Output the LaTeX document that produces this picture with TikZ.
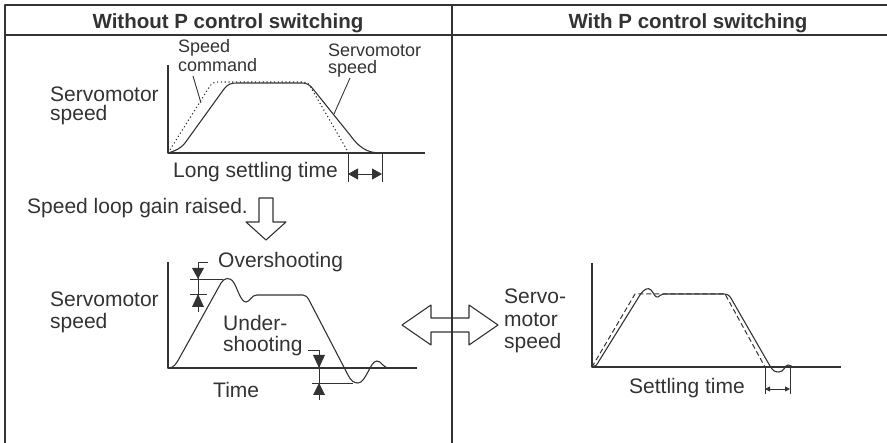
\documentclass[tikz,border=0pt]{standalone}
\usepackage{fontspec}
\setmainfont{Liberation Sans}
\usetikzlibrary{arrows.meta}
\definecolor{ink}{HTML}{333333}
\begin{document}
\begin{tikzpicture}[x=1pt,y=-1pt, line join=round,
  every node/.style={inner sep=0pt, text=ink},
  hdr/.style={font=\fontsize{20.5}{24}\selectfont\bfseries, anchor=base},
  lbl/.style={font=\fontsize{21}{24}\selectfont, anchor=base west},
  sml/.style={font=\fontsize{18}{20}\selectfont, anchor=base west},
  frame/.style={draw=ink, line width=1.6pt},
  axis/.style={draw=ink, line width=1.3pt},
  curve/.style={draw=ink, line width=1.1pt},
  cmddot/.style={draw=ink, line width=1.1pt, dash pattern=on 1.2pt off 2.6pt},
  cmddash/.style={draw=ink, line width=1.0pt, dash pattern=on 5pt off 3pt},
  thin/.style={draw=ink, line width=0.9pt},
  tri/.style={fill=ink},
  hollow/.style={draw=ink, line width=1.1pt, fill=none},
  bigtip/.style={{Triangle[length=10pt,width=11pt]}-{Triangle[length=10pt,width=11pt]}},
  smalltip/.style={{Triangle[length=5pt,width=5pt]}-{Triangle[length=5pt,width=5pt]}},
]
\useasboundingbox (0,0) rectangle (887,443);

% table frame
\draw[frame] (887,5) -- (5,5) -- (5,443);
\draw[frame] (5,35) -- (887,35);
\draw[frame] (452,5) -- (452,443);
\node[hdr] (h1) at (228,29) {Without P control switching};
\node[hdr] (h2) at (688,29) {With P control switching};

% ---------- top-left chart ----------
\coordinate (o1) at (168,153);
\coordinate (y1) at (168,65);
\coordinate (x1) at (425,153);
\draw[axis] (y1) -- (o1) -- (x1);
\draw[cmddot] (o1) -- (208,89) .. controls (211,84) and (213,82) .. (218,82)
  -- (303,82) .. controls (306,82) and (308,83) .. (310,86) -- (347,150);
\draw[curve] (o1) .. controls (175,151) and (180,149) .. (185,143)
  -- (224,89) .. controls (228,84) and (231,83) .. (237,83)
  -- (302,83) .. controls (307,83) and (310,85) .. (313,89)
  -- (350,135) .. controls (358,146) and (366,153) .. (380,153);
\node[lbl] (t1a) at (50,102) {Servomotor};
\node[lbl] (t1b) at (50,121) {speed};
\node[sml] (sc1) at (178,53) {Speed};
\node[sml] (sc2) at (178,72) {command};
\node[sml] (ss1) at (328,57) {Servomotor};
\node[sml] (ss2) at (328,74) {speed};
\coordinate (lc1) at (193,76);
\coordinate (lc2) at (201,103);
\coordinate (ls1) at (350,78);
\coordinate (ls2) at (334,114);
\draw[thin] (lc1) -- (lc2);
\draw[thin] (ls1) -- (ls2);
\node[lbl] (lst) at (173,178) {Long settling time};
\coordinate (sa1) at (348,153);
\coordinate (sa2) at (348,182);
\coordinate (sb1) at (382,153);
\coordinate (sb2) at (382,182);
\draw[thin] (sa1) -- (sa2);
\draw[thin] (sb1) -- (sb2);
\coordinate (sl) at (348,174);
\coordinate (sr) at (382,174);
\draw[thin, bigtip] (sl) -- (sr);

% gain raised + hollow arrow
\node[lbl] (gain) at (27,214) {Speed loop gain raised.};
\draw[hollow] (259,198) -- (273,198) -- (273,222) -- (286,222) -- (266,240)
  -- (246,222) -- (259,222) -- cycle;

% ---------- bottom-left chart ----------
\coordinate (o2) at (168,368);
\coordinate (y2) at (168,262);
\coordinate (x2) at (417,368);
\draw[axis] (y2) -- (o2) -- (x2);
\draw[curve] (o2) .. controls (174,368) and (176,364) .. (180,357)
  -- (221,283) .. controls (224,278) and (230,276) .. (234,283)
  .. controls (238,290) and (241,302) .. (246,302)
  .. controls (250,302) and (251,295) .. (257,295)
  -- (303,295) .. controls (306,295) and (307,297) .. (309,300)
  -- (348,375) .. controls (351,381) and (354,383) .. (358,383)
  .. controls (366,383) and (370,361) .. (377,361)
  .. controls (382,361) and (382,368) .. (390,368);
\node[lbl] (t2a) at (50,307) {Servomotor};
\node[lbl] (t2b) at (50,329) {speed};
\node[lbl] (ov) at (218,268) {Overshooting};
\node[lbl] (un1) at (223,331) {Under-};
\node[lbl] (un2) at (223,352) {shooting};
\node[lbl] (tm) at (213,398) {Time};
% overshoot marker
\coordinate (ovt) at (198,262);
\coordinate (ovb) at (198,312);
\draw[thin] (ovt) -- (ovb);
\draw[thin] (ovt) -- (208,262);
\draw[thin] (190,279) -- (223,279);
\draw[thin] (190,294) -- (207,294);
\fill[tri] (192,268) -- (204,268) -- (198,279) -- cycle;
\fill[tri] (192,307) -- (204,307) -- (198,294) -- cycle;
% undershoot marker
\coordinate (unt) at (319,350);
\coordinate (unb) at (319,400);
\draw[thin] (308,350) -- (unt) -- (unb);
\draw[thin] (312,383) -- (353,383);
\fill[tri] (313,355) -- (325,355) -- (319,368) -- cycle;
\fill[tri] (313,395) -- (325,395) -- (319,383) -- cycle;

% double hollow arrow
\draw[hollow] (402,325) -- (431,305) -- (431,318) -- (469,318) -- (469,305)
  -- (498,325) -- (469,345) -- (469,332) -- (431,332) -- (431,345) -- cycle;

% ---------- right chart ----------
\coordinate (o3) at (592,367);
\coordinate (y3) at (592,263);
\coordinate (x3) at (841,367);
\draw[axis] (y3) -- (o3) -- (x3);
\draw[cmddash] (o3) -- (635,294) -- (725,294) -- (765,367);
\draw[curve] (o3) .. controls (595,367) and (597,365) .. (599,361)
  -- (640,295) .. controls (644,289) and (648,287) .. (651,290)
  .. controls (654,293) and (655,298) .. (658,297)
  .. controls (660,296) and (661,294) .. (664,294)
  -- (724,294) .. controls (728,294) and (730,296) .. (732,300)
  -- (770,366) .. controls (773,371) and (775,372) .. (779,372)
  .. controls (784,372) and (785,365) .. (788,365)
  .. controls (791,365) and (791,367) .. (795,367);
\node[lbl] (t3a) at (504,304) {Servo-};
\node[lbl] (t3b) at (504,327) {motor};
\node[lbl] (t3c) at (504,349) {speed};
\node[lbl] (st) at (629,394) {Settling time};
\coordinate (ra1) at (765,367);
\coordinate (ra2) at (765,394);
\coordinate (rb1) at (790,366);
\coordinate (rb2) at (790,394);
\draw[thin] (ra1) -- (ra2);
\draw[thin] (rb1) -- (rb2);
\coordinate (rl) at (765,389);
\coordinate (rr) at (790,389);
\draw[thin, smalltip] (rl) -- (rr);
\end{tikzpicture}
\end{document}
